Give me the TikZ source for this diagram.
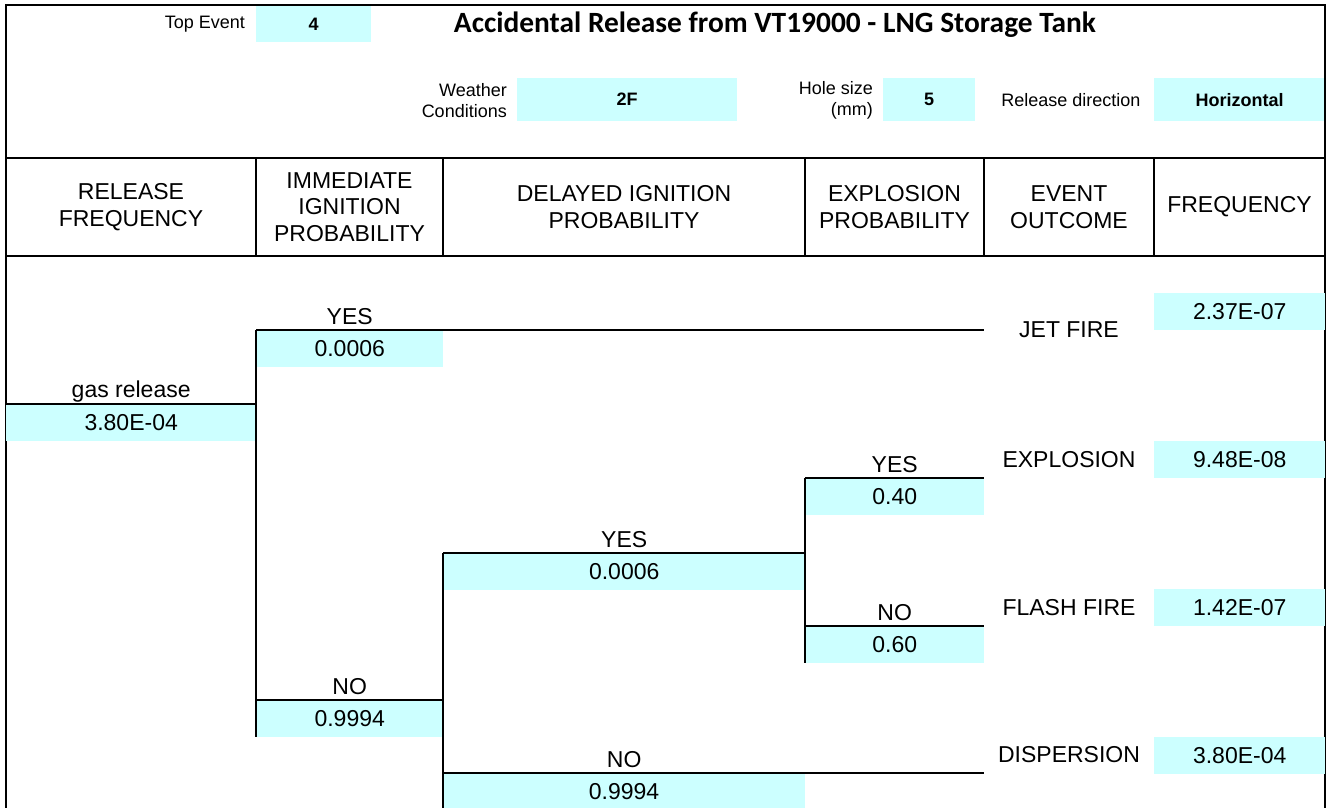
\documentclass[tikz,border=0pt]{standalone}
\usepackage{fontspec}
\setmainfont{Liberation Sans}
\newfontfamily\titlefont{Carlito}
\definecolor{cyanbg}{RGB}{204,255,255}
\newcommand\fsmall{\fontsize{18}{21}\selectfont}
\newcommand\ftree{\fontsize{23}{26.5}\selectfont}
\begin{document}
\begin{tikzpicture}[x=1pt,y=-1pt,
  thin/.style={line width=2.8pt},
  valbox/.style={fill=cyanbg, inner sep=0pt, minimum height=37pt, anchor=north west, font=\ftree},
  smallbox/.style={fill=cyanbg, inner sep=0pt, anchor=north west, font=\fsmall\bfseries},
  lbl/.style={inner sep=0pt, font=\ftree},
  head/.style={inner sep=0pt, font=\ftree, align=center},
  small/.style={inner sep=0pt, font=\fsmall}]
\useasboundingbox (0,0) rectangle (1333,808);

% ---------- top header ----------
\node[small, anchor=east] (topl) at (245,24) {Top Event};
\node[smallbox, minimum width=115pt, minimum height=36pt] (topv) at (256,6) {4};
\node[inner sep=0pt, font=\titlefont\bfseries\fontsize{29.4}{33}\selectfont] (title) at (775,25) {Accidental Release from VT19000 - LNG Storage Tank};

\node[small, anchor=east, align=right] (wl) at (507,100.5) {Weather\\Conditions};
\node[smallbox, minimum width=220pt, minimum height=43pt] (wv) at (517,78) {2F};
\node[small, anchor=east, align=right] (hl) at (873,100.5) {Hole size\\(mm)};
\node[smallbox, minimum width=92pt, minimum height=43pt] (hv) at (883,78) {5};
\node[small] (rl) at (1071,100) {Release direction};
\node[smallbox, minimum width=171pt, minimum height=43pt] (rv) at (1154,78) {Horizontal};

% ---------- frame ----------
\coordinate (fbl) at (6,808);
\coordinate (ftl) at (6,5);
\coordinate (ftr) at (1325,5);
\coordinate (fbr) at (1325,808);
\draw[thin] (fbl) -- (ftl) -- (ftr) -- (fbr);
\coordinate (h1l) at (6,158);  \coordinate (h1r) at (1325,158);
\coordinate (h2l) at (6,256);  \coordinate (h2r) at (1325,256);
\draw[thin] (h1l) -- (h1r);
\draw[thin] (h2l) -- (h2r);
\foreach \x/\n in {256/a,443/b,805/c,984/d,1154/e}{
  \coordinate (d\n t) at (\x,158); \coordinate (d\n b) at (\x,256);
  \draw[thin] (d\n t) -- (d\n b);
}

% ---------- column headers ----------
\node[head] (c1) at (131,207) {RELEASE\\FREQUENCY};
\node[head] (c2) at (349.5,207) {IMMEDIATE\\IGNITION\\PROBABILITY};
\node[head] (c3) at (624,207) {DELAYED IGNITION\\PROBABILITY};
\node[head] (c4) at (894.5,207) {EXPLOSION\\PROBABILITY};
\node[head] (c5) at (1069,207) {EVENT\\OUTCOME};
\node[head] (c6) at (1239.5,207) {FREQUENCY};

% ---------- value boxes ----------
\node[valbox, minimum width=250pt] (gv) at (6,404) {3.80E-04};
\node[valbox, minimum width=187pt] (iyv) at (256,330) {0.0006};
\node[valbox, minimum width=187pt] (inv) at (256,700) {0.9994};
\node[valbox, minimum width=362pt] (dyv) at (443,553) {0.0006};
\node[valbox, minimum width=362pt, minimum height=35pt] (dnv) at (443,773) {};
\node[lbl] (dnvt) at (624,792) {0.9994};
\node[valbox, minimum width=179pt] (eyv) at (805,478) {0.40};
\node[valbox, minimum width=179pt] (env) at (805,626) {0.60};

% ---------- branch labels ----------
\node[lbl, anchor=base] (gl) at ([yshift=7pt]gv.north) {gas release};
\node[lbl, anchor=base] (iyl) at ([yshift=6pt]iyv.north) {YES};
\node[lbl, anchor=base] (inl) at ([yshift=6pt]inv.north) {NO};
\node[lbl, anchor=base] (dyl) at ([yshift=6pt]dyv.north) {YES};
\node[lbl, anchor=base] (dnl) at ([yshift=6pt]dnv.north) {NO};
\node[lbl, anchor=base] (eyl) at ([yshift=6pt]eyv.north) {YES};
\node[lbl, anchor=base] (enl) at ([yshift=6pt]env.north) {NO};

% ---------- outcomes ----------
\node[lbl] (o1) at (1069,330) {JET FIRE};
\node[lbl] (o2) at (1069,459.5) {EXPLOSION};
\node[lbl] (o3) at (1069,607.5) {FLASH FIRE};
\node[lbl] (o4) at (1069,755) {DISPERSION};
\node[valbox, minimum width=171pt] (f1) at (1154,293) {2.37E-07};
\node[valbox, minimum width=171pt] (f2) at (1154,441) {9.48E-08};
\node[valbox, minimum width=171pt] (f3) at (1154,589) {1.42E-07};
\node[valbox, minimum width=171pt] (f4) at (1154,737) {3.80E-04};

% ---------- tree lines ----------
\coordinate (jetend) at (984,330);
\coordinate (dispend) at (984,773);
\draw[thin] (gv.north west) -- (gv.north east);
\draw[thin] (iyv.north west) -- (inv.south west);
\draw[thin] (iyv.north west) -- (jetend);
\draw[thin] (inv.north west) -- (inv.north east);
\draw[thin] (dyv.north west) -- (dnv.south west);
\draw[thin] (dyv.north west) -- (dyv.north east);
\draw[thin] (dnv.north west) -- (dispend);
\draw[thin] (eyv.north west) -- (env.south west);
\draw[thin] (eyv.north west) -- (eyv.north east);
\draw[thin] (env.north west) -- (env.north east);
\end{tikzpicture}
\end{document}
